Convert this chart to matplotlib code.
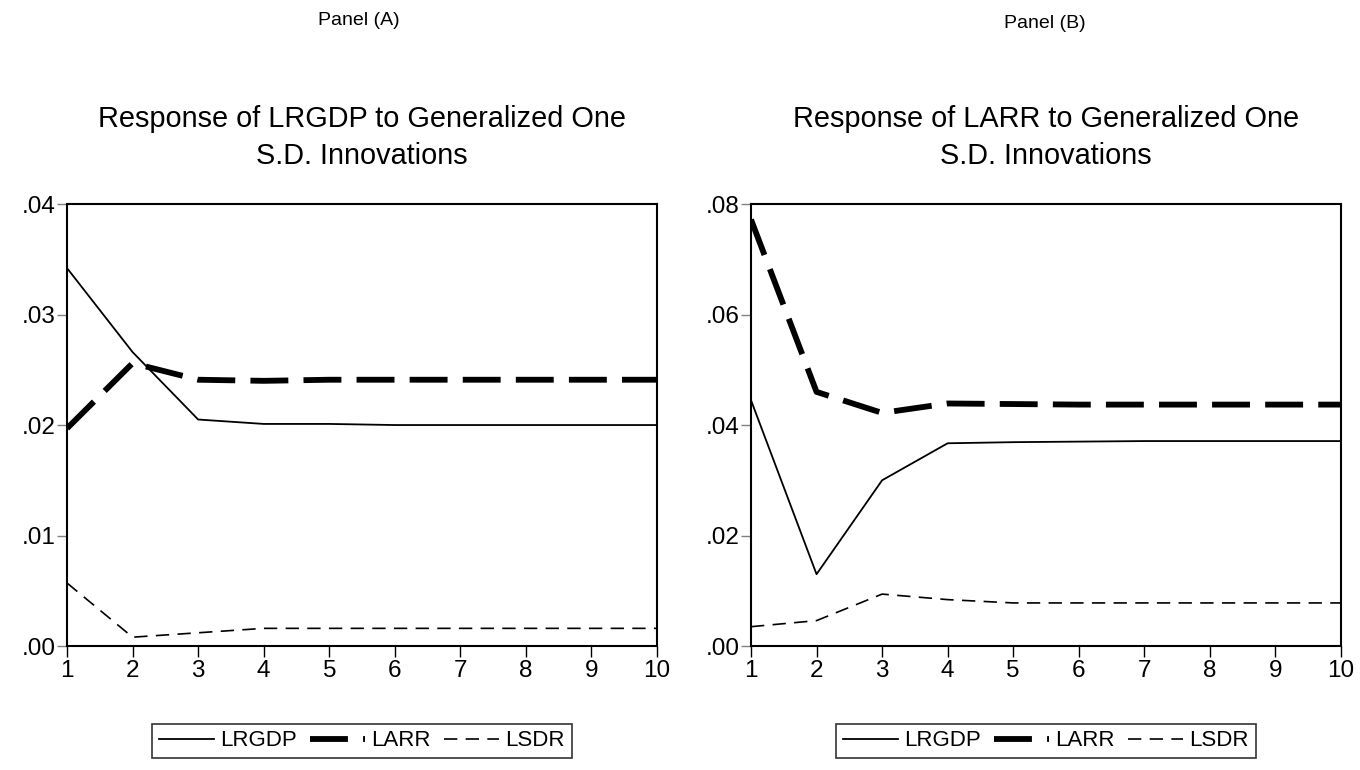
import matplotlib
matplotlib.use("Agg")
import matplotlib.pyplot as plt

plt.rcParams['font.family'] = ['Liberation Sans', 'DejaVu Sans']

periods = [1, 2, 3, 4, 5, 6, 7, 8, 9, 10]

# Panel (A): response of LRGDP
a_lrgdp = [0.0342, 0.0266, 0.0205, 0.0201, 0.0201, 0.0200, 0.0200, 0.0200, 0.0200, 0.0200]
a_larr = [0.0197, 0.0256, 0.0241, 0.0240, 0.0241, 0.0241, 0.0241, 0.0241, 0.0241, 0.0241]
a_lsdr = [0.0057, 0.0008, 0.0012, 0.0016, 0.0016, 0.0016, 0.0016, 0.0016, 0.0016, 0.0016]

# Panel (B): response of LARR
b_lrgdp = [0.0445, 0.0130, 0.0300, 0.0367, 0.0369, 0.0370, 0.0371, 0.0371, 0.0371, 0.0371]
b_larr = [0.0772, 0.0460, 0.0422, 0.0439, 0.0438, 0.0437, 0.0437, 0.0437, 0.0437, 0.0437]
b_lsdr = [0.0035, 0.0046, 0.0094, 0.0084, 0.0078, 0.0078, 0.0078, 0.0078, 0.0078, 0.0078]

a_yticks = [0.00, 0.01, 0.02, 0.03, 0.04]
a_ylabels = ['.00', '.01', '.02', '.03', '.04']
b_yticks = [0.00, 0.02, 0.04, 0.06, 0.08]
b_ylabels = ['.00', '.02', '.04', '.06', '.08']

fig = plt.figure(figsize=(13.6, 7.7), dpi=100)


def panel(rect, lrgdp, larr, lsdr, yticks, ylabels, title, panel_name, panel_x, panel_y):
    ax = fig.add_axes(rect)
    ax.plot(periods, lrgdp, color='black', lw=1.3, label='LRGDP')
    ax.plot(periods, larr, color='black', lw=4.2, dashes=(6.5, 2.6), label='LARR')
    ax.plot(periods, lsdr, color='black', lw=1.2, dashes=(8, 5), label='LSDR')
    ax.set_xlim(1, 10)
    ax.set_ylim(yticks[0], yticks[-1])
    ax.set_xticks(periods)
    ax.set_yticks(yticks)
    ax.set_yticklabels(ylabels)
    ax.tick_params(axis='both', labelsize=17.5, direction='out')
    ax.tick_params(axis='x', length=8, width=1, color='black', pad=2)
    ax.tick_params(axis='y', length=7, width=1, color='gray', pad=1)
    for s in ax.spines.values():
        s.set_linewidth(1.5)
        s.set_color('black')
    ax.set_title(title, fontsize=20.8, pad=29, linespacing=1.4)
    fig.text(panel_x, panel_y, panel_name, ha='center', va='center', fontsize=14)
    leg = ax.legend(loc='upper center', bbox_to_anchor=(0.5, -0.176), ncol=3,
                    frameon=True, fancybox=False, fontsize=16, handlelength=2.45,
                    handletextpad=0.3, columnspacing=0.6, borderpad=0.3,
                    borderaxespad=0)
    leg.get_frame().set_edgecolor('black')
    leg.get_frame().set_linewidth(1.2)
    return ax


panel([0.0493, 0.161, 0.4338, 0.574], a_lrgdp, a_larr, a_lsdr, a_yticks, a_ylabels,
      'Response of LRGDP to Generalized One\nS.D. Innovations', 'Panel (A)', 0.264, 0.973)
panel([0.5522, 0.161, 0.4338, 0.574], b_lrgdp, b_larr, b_lsdr, b_yticks, b_ylabels,
      'Response of LARR to Generalized One\nS.D. Innovations', 'Panel (B)', 0.768, 0.969)

fig.savefig('out.png', dpi=100)
